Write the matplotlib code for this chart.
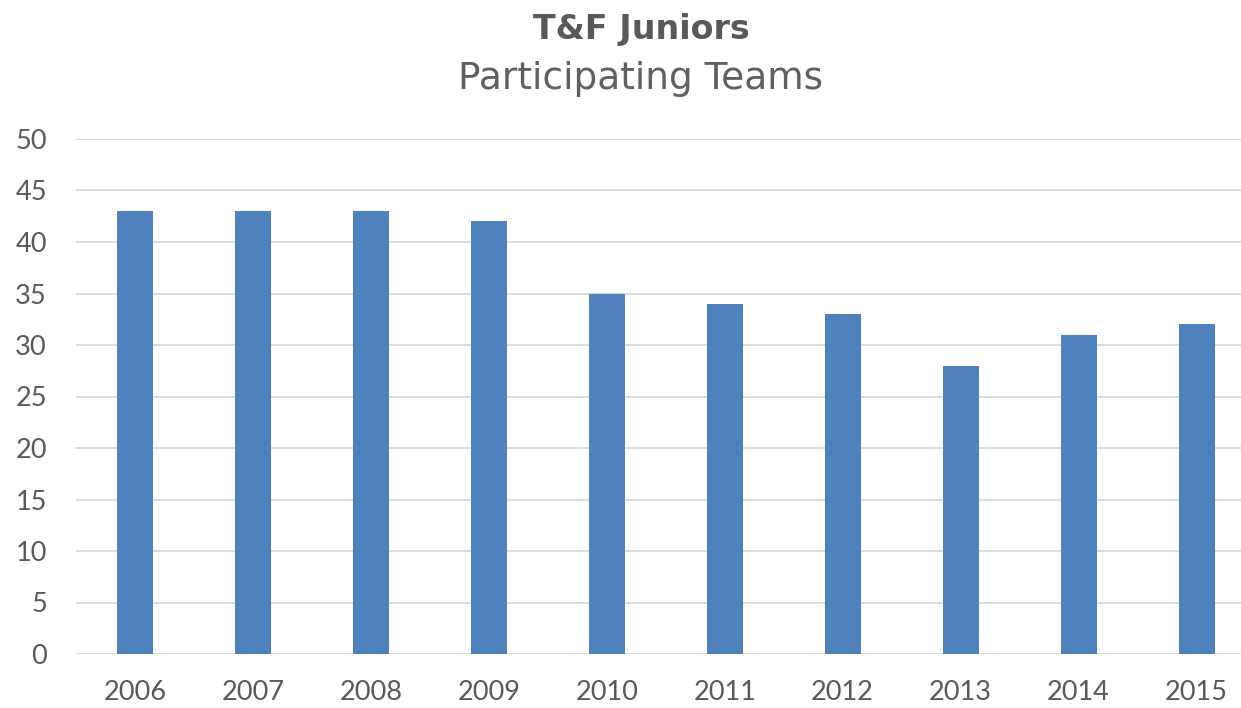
import matplotlib
matplotlib.use("Agg")
import matplotlib.pyplot as plt

years = ["2006", "2007", "2008", "2009", "2010", "2011", "2012", "2013", "2014", "2015"]
teams = [43, 43, 43, 42, 35, 34, 33, 28, 31, 32]
yticks = [0, 5, 10, 15, 20, 25, 30, 35, 40, 45, 50]

plt.rcParams['font.family'] = ['Lato', 'DejaVu Sans']
W, H = 1241, 708
fig = plt.figure(figsize=(W / 100, H / 100), dpi=100)
ax = fig.add_axes([76 / W, 54 / H, 1179.5 / W, 515 / H])

x = range(len(years))
ax.bar(x, teams, width=0.305, color="#4F81BD", zorder=3)
ax.set_xlim(-0.5, len(years) - 0.5)
ax.set_ylim(0, 50)
ax.set_yticks(yticks)
ax.set_xticks(list(x))
ax.set_xticklabels(years)
ax.grid(axis="y", color="#D9D9D9", linewidth=1.3, zorder=0)
for s in ax.spines.values():
    s.set_visible(False)
ax.tick_params(axis="both", length=0, labelsize=19.5, labelcolor="#595959")
ax.tick_params(axis="y", pad=21)
ax.tick_params(axis="x", pad=19)

fig.text(641 / W, 1 - 30 / H, "T&F Juniors", ha="center", va="center",
         fontsize=24, fontweight="bold", color="#595959", family="DejaVu Sans")
fig.text(641 / W, 1 - 79 / H, "Participating Teams", ha="center", va="center",
         fontsize=27, fontweight="normal", color="#606060", family="DejaVu Sans")

fig.savefig("out.png", dpi=100)
